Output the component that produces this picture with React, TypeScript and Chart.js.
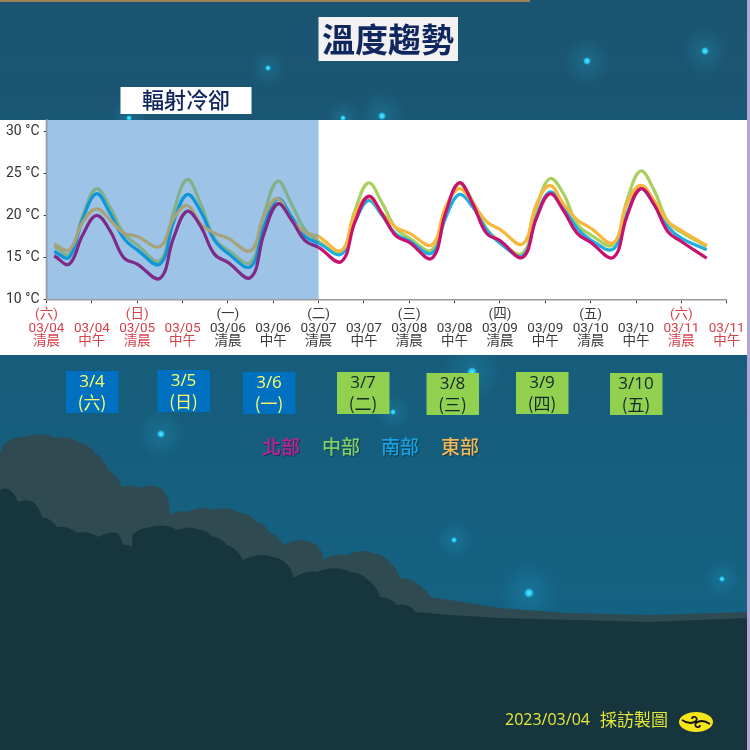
import { useEffect, useRef } from 'react';
import Chart from 'chart.js/auto';

const xPositions = [
  0.17,
  0.5, 0.8, 1.1, 1.4, 1.7, 2,
  2.5, 2.8, 3.1, 3.4, 3.7, 4,
  4.5, 4.8, 5.1, 5.4, 5.7, 6,
  6.5, 6.8, 7.1, 7.4, 7.7, 8,
  8.5, 8.8, 9.1, 9.4, 9.7, 10,
  10.5, 10.8, 11.1, 11.4, 11.7, 12,
  12.5, 12.8, 13.1, 13.4, 13.7, 14,
  14.56,
];
const north = [
  15.2,
  14.2, 17.7, 20.0, 18.2, 15.0, 14.2,
  12.5, 17.3, 20.5, 18.7, 15.4, 14.4,
  12.6, 17.9, 21.4, 19.5, 17.0, 16.2,
  14.5, 19.2, 22.3, 20.2, 17.6, 16.8,
  14.9, 20.3, 23.9, 21.4, 17.9, 17.0,
  15.0, 19.6, 22.6, 20.6, 17.9, 16.8,
  15.0, 19.9, 23.2, 21.3, 18.1, 16.9,
  14.9,
];
const south = [
  15.7,
  15.0, 19.6, 22.6, 20.3, 17.3, 15.9,
  14.2, 19.2, 22.5, 20.5, 17.1, 15.5,
  13.9, 18.8, 22.0, 19.9, 17.5, 16.7,
  15.4, 19.2, 21.8, 20.0, 17.8, 17.0,
  15.5, 19.7, 22.5, 21.0, 18.3, 16.7,
  15.2, 19.8, 22.8, 21.0, 18.5, 17.1,
  16.0, 20.3, 23.2, 21.3, 18.7, 17.3,
  15.9,
];
const central = [
  16.3,
  15.4, 20.0, 23.2, 21.0, 17.9, 16.5,
  14.6, 20.4, 24.3, 21.4, 17.3, 15.9,
  14.4, 20.2, 24.1, 21.4, 18.3, 16.9,
  15.7, 20.6, 23.9, 21.5, 18.5, 17.3,
  15.9, 20.6, 23.8, 21.7, 18.5, 16.9,
  15.5, 20.8, 24.4, 22.6, 19.0, 17.7,
  16.5, 21.8, 25.3, 23.0, 19.3, 18.0,
  16.3,
];
const east = [
  16.6,
  15.9, 19.2, 20.8, 19.5, 17.9, 17.5,
  16.3, 19.6, 21.2, 19.0, 17.9, 17.3,
  15.8, 20.0, 22.0, 19.5, 18.0, 17.5,
  15.8, 20.2, 22.2, 20.3, 18.6, 17.9,
  16.5, 21.0, 23.2, 21.5, 19.3, 18.35,
  16.6, 21.3, 23.6, 21.4, 19.5, 18.5,
  16.75, 21.4, 23.6, 21.8, 19.3, 18.2,
  16.4,
];

const tickLabels = [
  ['(六)', '03/04', '清晨'], ['', '03/04', '中午'],
  ['(日)', '03/05', '清晨'], ['', '03/05', '中午'],
  ['(一)', '03/06', '清晨'], ['', '03/06', '中午'],
  ['(二)', '03/07', '清晨'], ['', '03/07', '中午'],
  ['(三)', '03/08', '清晨'], ['', '03/08', '中午'],
  ['(四)', '03/09', '清晨'], ['', '03/09', '中午'],
  ['(五)', '03/10', '清晨'], ['', '03/10', '中午'],
  ['(六)', '03/11', '清晨'], ['', '03/11', '中午'],
];
const redTicks = [0, 1, 2, 3, 14, 15];
const shadeEnd = 6;

const CJK = '"Noto Sans CJK TC"';

const dayBoxes = [
  { a: '3/4', b: '(六)', x: 66, y: 371, blue: true },
  { a: '3/5', b: '(日)', x: 157.5, y: 370, blue: true },
  { a: '3/6', b: '(一)', x: 243, y: 372, blue: true },
  { a: '3/7', b: '(二)', x: 337, y: 372, blue: false },
  { a: '3/8', b: '(三)', x: 426.5, y: 373, blue: false },
  { a: '3/9', b: '(四)', x: 516, y: 372, blue: false },
  { a: '3/10', b: '(五)', x: 610, y: 373, blue: false },
];
const legendItems = [
  { t: '北部', x: 281, c: '#C0209A' },
  { t: '中部', x: 341, c: '#7FD06B' },
  { t: '南部', x: 400, c: '#18A0E0' },
  { t: '東部', x: 460, c: '#F0B95A' },
];
const stars = [
  [268, 68, 3], [587, 61, 4], [705, 51, 4], [382, 116, 4], [343, 118, 3], [129, 118, 3],
  [472, 372, 5], [393, 412, 3], [161, 434, 4], [454, 540, 3], [529, 593, 5], [722, 579, 3],
];
const backHill = [
  [0, 453], [5, 443], [25, 437], [55, 438], [80, 443], [95, 453], [108, 470], [122, 487],
  [140, 488], [160, 488], [168, 500], [170, 515], [187, 512], [213, 510], [240, 513],
  [257, 522], [270, 533], [283, 545], [310, 542], [322, 552], [323, 560], [347, 555],
  [373, 553], [390, 563], [400, 578], [425, 590], [430, 597],
];
const backTail = [[500, 608], [567, 613], [650, 615], [750, 612]];
const frontHill = [
  [0, 490], [8, 489], [18, 502], [33, 502], [42, 517], [57, 527], [77, 533], [98, 537],
  [117, 533], [123, 545], [132, 547], [132, 535], [147, 528], [177, 530], [200, 530],
  [213, 537], [227, 545], [243, 560], [273, 557], [290, 568], [293, 578], [317, 572],
  [350, 572], [370, 582], [380, 597], [397, 605], [412, 608], [415, 612],
];
const frontTail = [[450, 615], [500, 618], [650, 622], [750, 618]];

function drawHill(ctx: CanvasRenderingContext2D, bumps: number[][], tail: number[][], color: string) {
  ctx.fillStyle = color;
  ctx.beginPath();
  ctx.moveTo(0, 750);
  ctx.lineTo(bumps[0][0], bumps[0][1]);
  for (let i = 1; i < bumps.length; i++) {
    const [x0, y0] = bumps[i - 1];
    const [x1, y1] = bumps[i];
    const d = Math.hypot(x1 - x0, y1 - y0);
    ctx.quadraticCurveTo((x0 + x1) / 2 + 0.06 * d, (y0 + y1) / 2 - 0.22 * d, x1, y1);
  }
  tail.forEach(([x, y]) => ctx.lineTo(x, y));
  ctx.lineTo(750, 750);
  ctx.closePath();
  ctx.fill();
}

const scenery = {
  id: 'scenery',
  beforeDraw(chart: any) {
    const { ctx, scales } = chart;
    ctx.save();
    const bg = ctx.createLinearGradient(0, 0, 0, 620);
    bg.addColorStop(0, '#1B5470');
    bg.addColorStop(1, '#146283');
    ctx.fillStyle = bg;
    ctx.fillRect(0, 0, 750, 750);

    stars.forEach(([x, y, r]) => {
      const halo = ctx.createRadialGradient(x, y, 0, x, y, r * 6);
      halo.addColorStop(0, 'rgba(40,190,235,0.2)');
      halo.addColorStop(1, 'rgba(40,190,235,0)');
      ctx.fillStyle = halo;
      ctx.fillRect(x - r * 6, y - r * 6, r * 12, r * 12);
      const core = ctx.createRadialGradient(x, y, 0, x, y, r);
      core.addColorStop(0, '#5FE8FF');
      core.addColorStop(0.6, '#22C4EE');
      core.addColorStop(1, 'rgba(34,196,238,0)');
      ctx.fillStyle = core;
      ctx.fillRect(x - r, y - r, r * 2, r * 2);
    });

    drawHill(ctx, backHill, backTail, '#2F4A50');
    drawHill(ctx, frontHill, frontTail, '#17353D');

    ctx.fillStyle = '#A08050';
    ctx.fillRect(0, 0, 530, 2);
    ctx.fillStyle = '#B3A6D6';
    ctx.fillRect(747, 0, 3, 750);

    // white chart panel and the shaded radiative cooling span
    ctx.fillStyle = '#FFFFFF';
    ctx.fillRect(0, 120, 747, 235);
    const left = scales.x.left;
    ctx.fillStyle = '#9DC3E6';
    ctx.fillRect(left - 1, 120, scales.x.getPixelForValue(shadeEnd) - left + 1, scales.y.bottom - 120);

    // title boxes
    ctx.textAlign = 'center';
    ctx.textBaseline = 'middle';
    ctx.fillStyle = '#F2F2F2';
    ctx.fillRect(318.5, 17, 139.5, 44);
    ctx.fillStyle = '#10265F';
    ctx.font = `bold 33px ${CJK}`;
    ctx.fillText('溫度趨勢', 388, 39);
    ctx.fillStyle = '#FFFFFF';
    ctx.fillRect(120.5, 87, 131, 27);
    ctx.fillStyle = '#10265F';
    ctx.font = `500 22px ${CJK}`;
    ctx.fillText('輻射冷卻', 186, 100);

    dayBoxes.forEach((d) => {
      ctx.fillStyle = d.blue ? '#0070C0' : '#92D050';
      ctx.fillRect(d.x, d.y, 52.5, 42);
      ctx.fillStyle = d.blue ? '#FFFF66' : '#12282A';
      ctx.font = '17px "Open Sans"';
      ctx.fillText(d.a, d.x + 26, d.y + 11);
      ctx.font = `17px ${CJK}`;
      ctx.fillText(d.b, d.x + 26, d.y + 32);
    });

    ctx.font = `500 19px ${CJK}`;
    legendItems.forEach((l) => {
      ctx.fillStyle = 'rgba(20,40,50,0.7)';
      ctx.fillText(l.t, l.x + 1, 448);
      ctx.fillStyle = l.c;
      ctx.fillText(l.t, l.x, 447);
    });

    ctx.textAlign = 'left';
    ctx.fillStyle = '#E6E83C';
    ctx.font = '16px "Open Sans"';
    ctx.fillText('2023/03/04', 505, 720);
    ctx.font = `17px ${CJK}`;
    ctx.fillText('採訪製圖', 600, 720);

    // weather bureau badge
    ctx.fillStyle = '#F5E51B';
    ctx.beginPath();
    ctx.ellipse(696, 722, 17, 10, 0, 0, Math.PI * 2);
    ctx.fill();
    ctx.strokeStyle = '#111111';
    ctx.lineWidth = 1.8;
    ctx.beginPath();
    ctx.moveTo(682, 720);
    ctx.bezierCurveTo(688, 724, 692, 724, 696, 721);
    ctx.bezierCurveTo(699, 717, 692, 715, 692, 719);
    ctx.moveTo(710, 724);
    ctx.bezierCurveTo(704, 720, 700, 720, 696, 723);
    ctx.bezierCurveTo(693, 727, 700, 729, 700, 725);
    ctx.stroke();
    ctx.restore();
  },
};

const makeLine = (label: string, values: number[], left: string, right: string) => ({
  label,
  data: values.map((v, i) => ({ x: xPositions[i], y: v })),
  borderColor: right,
  borderWidth: 3.2,
  pointRadius: 0,
  tension: 0.4,
  segment: {
    borderColor: (c: any) => (c.p0.parsed.x < shadeEnd ? left : right),
  },
});

export default function App() {
  const chartRef = useRef<HTMLCanvasElement>(null);

  useEffect(() => {
    if (!chartRef.current) return;

    const chart = new Chart(chartRef.current, {
      type: 'line',
      data: {
        datasets: [
          makeLine('北部', north, '#7E2A88', '#C8106E'),
          makeLine('東部', east, '#A8A27A', '#F5B83D'),
          makeLine('南部', south, '#0F96D8', '#1EAEE0'),
          makeLine('中部', central, '#82B08B', '#A9D05F'),
        ],
      },
      options: {
        responsive: false,
        animation: false,
        layout: { padding: { top: 120, right: 23.3, bottom: 395, left: 0 } },
        plugins: { legend: { display: false }, tooltip: { enabled: false } },
        scales: {
          x: {
            type: 'linear',
            min: 0,
            max: 15,
            afterFit: (s: any) => { s.height = 55.7; },
            border: { color: '#999999', width: 1.5 },
            grid: { drawOnChartArea: false, color: '#444444', tickLength: 4 },
            ticks: {
              stepSize: 1,
              autoSkip: false,
              maxRotation: 0,
              padding: 5,
              font: { family: `Roboto, ${CJK}`, size: 13.5, lineHeight: 1.0 },
              color: (c: any) => (redTicks.includes(c.index) ? '#D8404A' : '#3A3A3A'),
              callback: (_v: any, i: number) => tickLabels[i],
            },
          },
          y: {
            min: 10,
            max: 31.4,
            afterFit: (s: any) => { s.width = 46.5; },
            border: { color: '#999999', width: 1.5 },
            grid: { drawOnChartArea: false, color: '#444444', tickLength: 3 },
            ticks: {
              stepSize: 5,
              includeBounds: false,
              padding: 4,
              font: { family: 'Roboto', size: 14 },
              color: '#333333',
              callback: (v: any) => `${v} °C`,
            },
          },
        },
      },
      plugins: [scenery],
    });

    return () => chart.destroy();
  }, []);

  return (
    <div style={{ position: 'absolute', left: 0, top: 0, width: 750, height: 750 }}>
      <canvas ref={chartRef} width={750} height={750} style={{ display: 'block' }} />
    </div>
  );
}
